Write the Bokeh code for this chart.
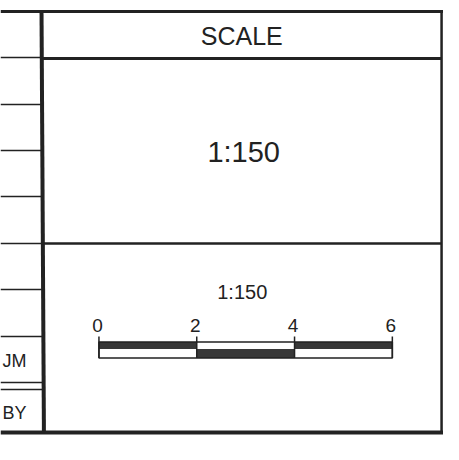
from bokeh.plotting import figure
from bokeh.models import Range1d
from bokeh.embed import file_html
from bokeh.resources import INLINE
from bokeh.core.properties import value

# ---- content ----
title_text = "SCALE"
scale_ratio = "1:150"
bar_values = [0, 2, 4, 6]
bar_labels = ["0", "2", "4", "6"]
row_labels = ["", "", "", "", "", "", "", "JM", "BY"]

# ---- layout (reference pixel space) ----
W, H = 443, 444
FONT = value("Liberation Sans")
INK = "#222222"
BAR = "#383838"

p = figure(width=W, height=H, x_range=Range1d(0, 459), y_range=Range1d(444, 0),
           output_backend="svg", toolbar_location=None,
           x_axis_type=None, y_axis_type=None, min_border=0)
p.grid.visible = False
p.outline_line_color = None
p.background_fill_color = "white"
p.border_fill_color = "white"

# frame lines
DIV_X = 43.5
RIGHT_X = 457
TOP_Y = 11
BOT_Y = 432
p.segment(x0=[0], y0=[TOP_Y], x1=[459], y1=[TOP_Y], line_color=INK, line_width=3)
p.segment(x0=[0], y0=[BOT_Y], x1=[459], y1=[BOT_Y], line_color=INK, line_width=4)
p.segment(x0=[RIGHT_X], y0=[TOP_Y], x1=[RIGHT_X], y1=[BOT_Y], line_color=INK, line_width=2.5)
p.segment(x0=[DIV_X - 1], y0=[TOP_Y], x1=[DIV_X + 1.5], y1=[BOT_Y], line_color=INK, line_width=4)
p.segment(x0=[DIV_X], y0=[58], x1=[RIGHT_X], y1=[58], line_color=INK, line_width=3)
p.segment(x0=[DIV_X], y0=[243], x1=[RIGHT_X], y1=[243], line_color=INK, line_width=2.5)

# left column rows
row_edges = [TOP_Y, 57, 104, 150, 196, 243, 289, 336, 382, BOT_Y]
inner = row_edges[1:-1] + [389]
p.segment(x0=[0] * len(inner), y0=inner, x1=[DIV_X] * len(inner), y1=inner,
          line_color=INK, line_width=1.5)
centers = []
for i, (a, b) in enumerate(zip(row_edges[:-1], row_edges[1:])):
    if i == len(row_labels) - 1:
        a = 389
    centers.append((a + b) / 2 + 1.5)
p.text(x=[27] * len(row_labels), y=centers, text=row_labels, text_align="right",
       text_baseline="middle", text_font=FONT, text_font_size="18px", text_color=INK)

# titles
p.text(x=[250], y=[35], text=[title_text], text_align="center", text_baseline="middle",
       text_font=FONT, text_font_size="25px", text_color=INK)
p.text(x=[252], y=[151], text=[scale_ratio], text_align="center", text_baseline="middle",
       text_font=FONT, text_font_size="29px", text_color=INK)
p.text(x=[250.5], y=[291], text=[scale_ratio], text_align="center", text_baseline="middle",
       text_font=FONT, text_font_size="20px", text_color=INK)

# scale bar
X0, X1 = 102, 406
unit = (X1 - X0) / (bar_values[-1] - bar_values[0])
xs = [X0 + (v - bar_values[0]) * unit for v in bar_values]
B_TOP, B_MID, B_BOT = 341.5, 348.5, 357.5
lefts, rights, tops, bots = [], [], [], []
for i in range(len(xs) - 1):
    lefts.append(xs[i]); rights.append(xs[i + 1])
    if i % 2 == 0:
        tops.append(B_TOP); bots.append(B_MID)
    else:
        tops.append(B_MID); bots.append(B_BOT)
p.quad(left=lefts, right=rights, top=tops, bottom=bots, fill_color=BAR, line_color=None)
p.quad(left=[X0], right=[X1], top=[B_TOP], bottom=[B_BOT], fill_color=None,
       line_color=INK, line_width=1.5)
p.segment(x0=xs, y0=[336] * len(xs), x1=xs, y1=[B_BOT] * len(xs), line_color=INK, line_width=1.5)
p.text(x=[x - 1.5 for x in xs], y=[325] * len(xs), text=bar_labels, text_align="center",
       text_baseline="middle", text_font=FONT, text_font_size="19px", text_color=INK)

open("out.html", "w").write(file_html(p, INLINE))
